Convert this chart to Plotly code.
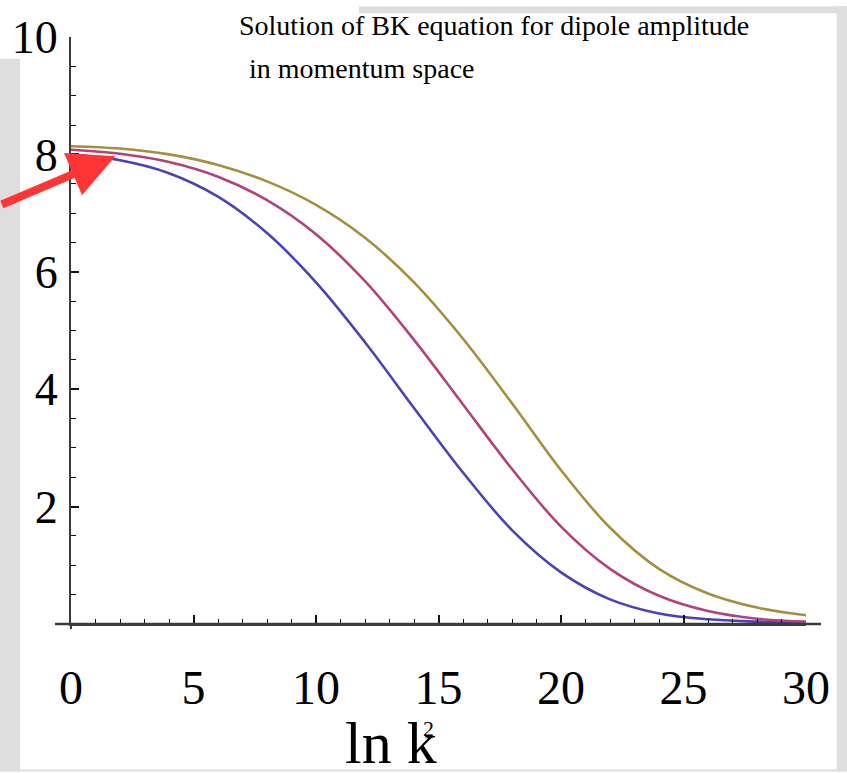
import plotly.graph_objects as go

# ---- data ----
ln_k2 = [0, 2, 4, 6, 8, 10, 12, 14, 16, 18, 20, 22, 24, 26, 28, 30]
curve_blue = [8.00, 7.90, 7.68, 7.28, 6.66, 5.82, 4.80, 3.68, 2.58, 1.60, 0.88, 0.42, 0.18, 0.08, 0.04, 0.02]
curve_magenta = [8.08, 8.01, 7.87, 7.62, 7.22, 6.64, 5.84, 4.84, 3.74, 2.64, 1.66, 0.94, 0.48, 0.22, 0.09, 0.04]
curve_gold = [8.14, 8.10, 8.00, 7.82, 7.54, 7.14, 6.58, 5.82, 4.86, 3.76, 2.62, 1.64, 0.94, 0.52, 0.28, 0.15]
x_tickvals = [0, 5, 10, 15, 20, 25, 30]
y_tickvals = [2, 4, 6, 8, 10]
title_line1 = "Solution of BK equation for dipole amplitude"
title_line2 = "in momentum space"

W, H = 847, 773
ML, MR, MT, MB = 71, 41, 31, 149
PW, PH = W - ML - MR, H - MT - MB


def px(x):  # page x pixel -> paper
    return (x - ML) / PW


def py(y):  # page y pixel -> paper
    return (H - MB - y) / PH


SERIF = "Liberation Serif, Times New Roman, serif"
AX = "#3a3a3a"
GRAY = "#dedede"

fig = go.Figure()
for ys, col in [(curve_blue, "#4b42b4"), (curve_magenta, "#b2427c"), (curve_gold, "#a38f3e")]:
    fig.add_trace(go.Scatter(x=ln_k2, y=ys, mode="lines",
                             line=dict(color=col, width=2.6, shape="spline", smoothing=1.0),
                             showlegend=False, hoverinfo="skip"))

fig.update_layout(
    width=W, height=H,
    margin=dict(l=ML, r=MR, t=MT, b=MB),
    paper_bgcolor="white", plot_bgcolor="white",
    xaxis=dict(range=[0, 30], showgrid=False, zeroline=False, showline=True,
               linecolor=AX, linewidth=2, ticks="inside", ticklen=9, tickwidth=1.5,
               tickcolor="#111", tickvals=x_tickvals,
               minor=dict(dtick=1, ticks="inside", ticklen=5, tickwidth=1.2, tickcolor="#111"),
               tickfont=dict(family=SERIF, size=48, color="black"),
               ticklabelstandoff=20, ticklabeloverflow="allow"),
    yaxis=dict(range=[0, 10], showgrid=False, zeroline=False, showline=True,
               linecolor=AX, linewidth=2, ticks="inside", ticklen=8, tickwidth=1.5,
               tickcolor="#111", tickvals=y_tickvals,
               minor=dict(dtick=0.5, ticks="inside", ticklen=5, tickwidth=1.2, tickcolor="#111"),
               tickfont=dict(family=SERIF, size=46, color="black"),
               ticklabelstandoff=2, ticklabeloverflow="allow"),
)

shapes = []
# axis line extensions
shapes.append(dict(type="line", xref="paper", yref="paper", x0=px(55), x1=px(821), y0=py(624), y1=py(624),
                   line=dict(color=AX, width=2.5)))
shapes.append(dict(type="line", xref="paper", yref="paper", x0=px(71), x1=px(71), y0=py(624), y1=py(629),
                   line=dict(color=AX, width=2)))
# gray background pieces (page pixel coordinates)
for x0, y0, x1, y1 in [(0, 53, 20, 773), (359, 0, 847, 7), (836.7, 0, 847, 773), (0, 771, 847, 773)]:
    shapes.append(dict(type="rect", xref="paper", yref="paper", x0=px(x0), x1=px(x1), y0=py(y1), y1=py(y0),
                       fillcolor=GRAY, line=dict(width=0), layer="above"))
fig.update_layout(shapes=shapes)

ann = []
ann.append(dict(xref="paper", yref="paper", x=px(237), y=py(37), xanchor="left", yanchor="bottom",
                text=title_line1, showarrow=False, font=dict(family=SERIF, size=28, color="black")))
ann.append(dict(xref="paper", yref="paper", x=px(247), y=py(80), xanchor="left", yanchor="bottom",
                text=title_line2, showarrow=False, font=dict(family=SERIF, size=28, color="black")))
ann.append(dict(xref="paper", yref="paper", x=px(343), y=py(780), xanchor="left", yanchor="bottom",
                text="ln k", showarrow=False, font=dict(family=SERIF, size=60, color="black")))
ann.append(dict(xref="paper", yref="paper", x=px(421), y=py(744), xanchor="left", yanchor="bottom",
                text="2", showarrow=False, font=dict(family=SERIF, size=22, color="black")))
# red arrow
ann.append(dict(xref="x", yref="y", x=1.81, y=7.97, ax=-115, ay=49, axref="pixel", ayref="pixel",
                text="", showarrow=True, arrowhead=2, arrowsize=1.15, arrowwidth=8, arrowcolor="#ff3535",
                standoff=0))
fig.update_layout(annotations=ann)

fig.write_html("out.html", config={"displayModeBar": False},
               post_script="document.body.style.margin='0';document.body.style.overflow='hidden';")
